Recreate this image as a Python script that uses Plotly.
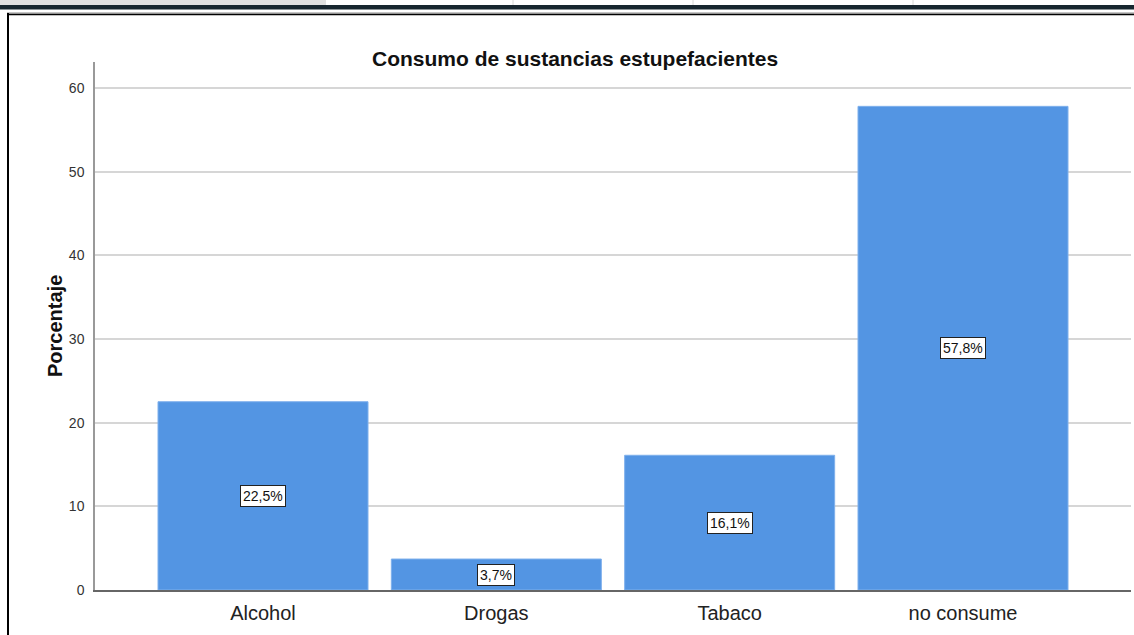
import plotly.graph_objects as go

# Data
categories = ['Alcohol', 'Drogas', 'Tabaco', 'no consume']
percentages = [22.5, 3.7, 16.1, 57.8]
labels = ['22,5%', '3,7%', '16,1%', '57,8%']
y_ticks = [0, 10, 20, 30, 40, 50, 60]

W, H = 1134, 635
L, R, T, B = 95, 3, 62, 45
pw, ph = W - L - R, H - T - B
FONT = 'Liberation Sans, Arial'


def px_x(x):
    return (x - L) / pw


def px_y(y):
    return (H - B - y) / ph


fig = go.Figure()

fig.add_trace(go.Bar(
    x=categories,
    y=percentages,
    marker=dict(color='#5395e3', line=dict(color='#7fb0ec', width=1)),
    width=0.9,
    hoverinfo='x+y',
))

# Boxed value labels at mid-height of each bar
annotations = []
for cat, val, lab in zip(categories, percentages, labels):
    annotations.append(dict(
        x=cat, y=val / 2, xref='x', yref='y',
        text=lab, showarrow=False,
        font=dict(family=FONT, size=14, color='#111'),
        bgcolor='white', bordercolor='#222', borderwidth=1, borderpad=2,
    ))

annotations.append(dict(
    x=px_x(575), y=px_y(45), xref='paper', yref='paper',
    text='<b>Consumo de sustancias estupefacientes</b>', showarrow=False,
    font=dict(family=FONT, size=21, color='#111'),
))
annotations.append(dict(
    x=px_x(42), y=px_y(326), xref='paper', yref='paper',
    text='<b>Porcentaje</b>', showarrow=False, textangle=-90,
    font=dict(family=FONT, size=20, color='#111'),
))

# Window chrome around the chart (screenshot frame)
shapes = [
    dict(type='rect', xref='paper', yref='paper', x0=px_x(0), x1=px_x(326),
         y0=px_y(0), y1=px_y(5), fillcolor='#e0e0e0', line=dict(width=0), layer='below'),
    dict(type='rect', xref='paper', yref='paper', x0=px_x(0), x1=px_x(1134),
         y0=px_y(5), y1=px_y(9.5), fillcolor='#17262f', line=dict(width=0)),
    dict(type='line', xref='paper', yref='paper', x0=px_x(7), x1=px_x(1134),
         y0=px_y(13), y1=px_y(13), line=dict(color='#888', width=1)),
    dict(type='line', xref='paper', yref='paper', x0=px_x(7), x1=px_x(1134),
         y0=px_y(14.5), y1=px_y(14.5), line=dict(color='#000', width=1.5)),
    dict(type='line', xref='paper', yref='paper', x0=px_x(8), x1=px_x(8),
         y0=px_y(13), y1=px_y(635), line=dict(color='#000', width=2)),
]
for dx in [513, 693, 913]:
    shapes.append(dict(type='line', xref='paper', yref='paper', x0=px_x(dx), x1=px_x(dx),
                       y0=px_y(0), y1=px_y(5), line=dict(color='#d8d8d8', width=1)))

fig.update_layout(
    width=W, height=H,
    margin=dict(l=L, r=R, t=T, b=B),
    paper_bgcolor='white',
    plot_bgcolor='white',
    showlegend=False,
    annotations=annotations,
    shapes=shapes,
    font=dict(family=FONT, color='#222'),
)

fig.update_xaxes(
    range=[-0.72, 3.72],
    showgrid=False,
    showline=True, linecolor='#666', linewidth=1.5,
    ticks='', tickfont=dict(size=20, color='#222'),
    ticklabelstandoff=4,
)
fig.update_yaxes(
    range=[0, 63.1],
    tickvals=y_ticks,
    showgrid=True, gridcolor='#d6d6d6', gridwidth=1.5,
    zeroline=False,
    showline=True, linecolor='#999', linewidth=1.5,
    ticks='', tickfont=dict(size=14, color='#333'),
    ticklabelstandoff=6,
)

# drop the default page margin so the figure sits at the window's top-left corner
fig.write_html('out.html', config={'displayModeBar': False},
               post_script="document.body.style.margin='0';")
